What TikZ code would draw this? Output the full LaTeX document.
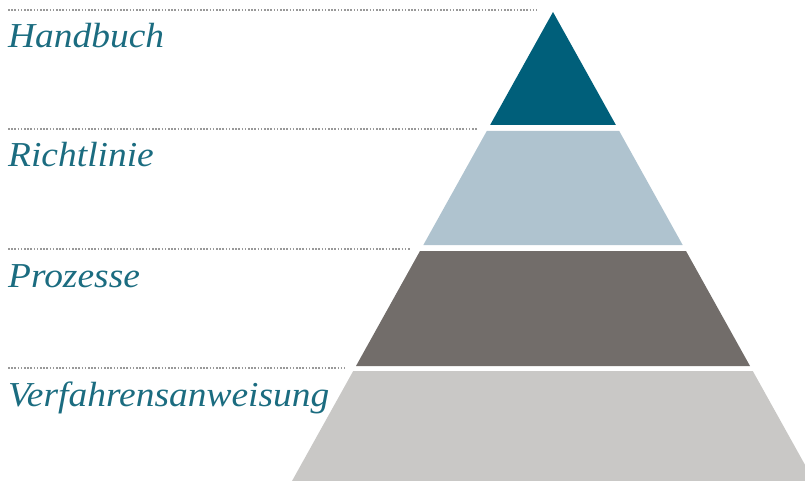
\documentclass[tikz,border=0pt]{standalone}
\usepackage{fontspec}
\setmainfont{Liberation Serif}
\newfontfamily\labelfont[FakeStretch=1.07]{Liberation Serif}
\definecolor{labelTeal}{HTML}{1B6C80}
\definecolor{guideGray}{HTML}{999999}
\definecolor{layerTop}{HTML}{005F7A}
\definecolor{layerTwo}{HTML}{AFC3CF}
\definecolor{layerThree}{HTML}{726D6A}
\definecolor{layerBase}{HTML}{C9C8C6}

\begin{document}
\begin{tikzpicture}
[x=1pt,y=-1pt,
  layerLabel/.style={anchor=base west,inner sep=0pt,text=labelTeal,
    font=\labelfont\fontsize{35}{40}\selectfont\itshape},
  guideLine/.style={guideGray,line width=1.8pt,dash pattern=on 1.6pt off 1.6pt}]
\useasboundingbox (0,0) rectangle (805,481);
\clip (0,0) rectangle (805,481);
%% pyramid layers: name / top y / bottom y / colour
\foreach \layername/\ytop/\ybot/\col in {
  hb/12/125/layerTop,
  rl/131/245/layerTwo,
  pz/251/366/layerThree,
  va/371/485/layerBase}
{
  \pgfmathsetmacro{\xtl}{553-0.5565*(\ytop-12)}
  \pgfmathsetmacro{\xtr}{553+0.5565*(\ytop-12)}
  \pgfmathsetmacro{\xbl}{553-0.5565*(\ybot-12)}
  \pgfmathsetmacro{\xbr}{553+0.5565*(\ybot-12)}
  \fill[\col] (\xtl,\ytop) -- (\xtr,\ytop) -- (\xbr,\ybot) -- (\xbl,\ybot) -- cycle;
}
%% labels and dotted guides: name / guide y / guide end x / text
\foreach \layername/\y/\xend/\txt in {
  hb/10/537/Handbuch,
  rl/129/477/Richtlinie,
  pz/249/410/Prozesse,
  va/368/345/Verfahrensanweisung}
{
  \coordinate (\layername-gl) at (8,\y);
  \coordinate (\layername-gr) at (\xend,\y);
  \draw[guideLine] (\layername-gl) -- (\layername-gr);
  \node (\layername-label) at (8,\y+38) [layerLabel] {\txt};
}
\end{tikzpicture}
\end{document}
